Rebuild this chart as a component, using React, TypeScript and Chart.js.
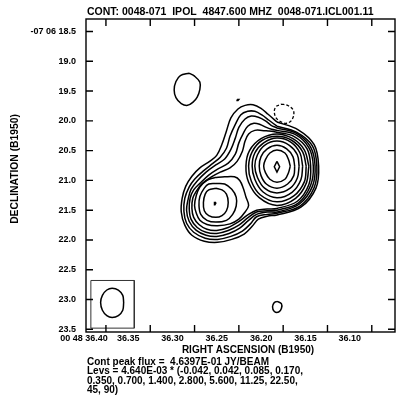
import React, { useEffect, useRef } from "react";
import { Chart, registerables } from "chart.js";

Chart.register(...registerables);

type Pt = [number, number];

// Axis ranges (RA seconds of 00h48m, Dec arcsec of -07d06m)
const raRange: Pt = [36.0738, 36.4225];
const decRange: Pt = [18.29, 23.545];
const raTicks = [36.4, 36.35, 36.3, 36.25, 36.2, 36.15, 36.1];
const decTicks = [18.5, 19.0, 19.5, 20.0, 20.5, 21.0, 21.5, 22.0, 22.5, 23.0, 23.5];

// Header / footer text values
const mapTitle = "CONT: 0048-071  IPOL  4847.600 MHZ  0048-071.ICL001.11";
const peakFlux = "4.6397E-01";
const levUnit = "4.640E-03";
const levLabels = ["-0.042", "0.042", "0.085", "0.170", "0.350", "0.700", "1.400", "2.800", "5.600", "11.25", "22.50", "45", "90"];

// Contours, [RA s, Dec arcsec]
const neg0042: Pt[] = [[36.202,19.72],[36.195,19.74],[36.189,19.81],[36.188,19.90],[36.191,20.00],[36.196,20.04],[36.202,20.02],[36.208,19.95],[36.210,19.84],[36.208,19.76]];
const pos0042Main: Pt[] = [[36.207,20.02],[36.183,20.15],[36.165,20.40],[36.160,20.76],[36.163,21.13],[36.180,21.45],[36.207,21.58],[36.218,21.60],[36.228,21.65],[36.235,21.77],[36.244,21.90],[36.258,21.99],[36.274,22.04],[36.289,22.02],[36.303,21.92],[36.311,21.75],[36.315,21.53],[36.314,21.30],[36.310,21.10],[36.303,20.93],[36.294,20.79],[36.283,20.68],[36.275,20.58],[36.269,20.39],[36.264,20.17],[36.259,19.95],[36.251,19.80],[36.243,19.74],[36.234,19.73],[36.225,19.79],[36.217,19.89]];
const pos0042Blob: Pt[] = [[36.306,19.20],[36.300,19.25],[36.294,19.35],[36.294,19.47],[36.297,19.60],[36.302,19.69],[36.308,19.74],[36.315,19.71],[36.321,19.61],[36.323,19.48],[36.321,19.34],[36.316,19.24]];
const pos0042Speck: Pt[] = [[36.252,19.64],[36.250,19.64],[36.251,19.66]];
const pos0042South: Pt[] = [[36.207,23.03],[36.202,23.07],[36.202,23.15],[36.205,23.21],[36.210,23.20],[36.212,23.12],[36.210,23.05]];
const pos0085: Pt[] = [[36.207,20.09],[36.185,20.19],[36.167,20.42],[36.162,20.76],[36.165,21.12],[36.181,21.43],[36.207,21.55],[36.218,21.57],[36.230,21.61],[36.237,21.73],[36.246,21.85],[36.259,21.94],[36.274,21.99],[36.288,21.97],[36.301,21.87],[36.309,21.72],[36.312,21.52],[36.311,21.30],[36.306,21.11],[36.300,20.98],[36.290,20.84],[36.279,20.71],[36.271,20.61],[36.264,20.46],[36.260,20.26],[36.254,20.06],[36.248,19.90],[36.240,19.84],[36.232,19.84],[36.224,19.90],[36.216,19.99]];
const pos0170: Pt[] = [[36.207,20.12],[36.185,20.21],[36.169,20.44],[36.164,20.76],[36.167,21.10],[36.182,21.40],[36.207,21.53],[36.218,21.53],[36.230,21.57],[36.239,21.67],[36.249,21.80],[36.261,21.89],[36.275,21.94],[36.287,21.92],[36.298,21.84],[36.306,21.69],[36.309,21.50],[36.307,21.30],[36.304,21.15],[36.297,21.01],[36.287,20.86],[36.276,20.74],[36.266,20.64],[36.259,20.48],[36.254,20.29],[36.250,20.11],[36.243,19.97],[36.236,19.92],[36.228,19.94],[36.220,20.00],[36.214,20.07]];
const pos0350: Pt[] = [[36.207,20.16],[36.186,20.23],[36.171,20.45],[36.166,20.76],[36.169,21.08],[36.183,21.38],[36.207,21.50],[36.218,21.51],[36.230,21.53],[36.240,21.63],[36.250,21.75],[36.262,21.84],[36.275,21.89],[36.287,21.87],[36.297,21.79],[36.304,21.65],[36.306,21.48],[36.305,21.30],[36.301,21.16],[36.294,21.05],[36.284,20.91],[36.274,20.81],[36.262,20.71],[36.254,20.56],[36.250,20.37],[36.245,20.21],[36.240,20.09],[36.233,20.04],[36.226,20.06],[36.219,20.11],[36.213,20.14]];
const pos0700: Pt[] = [[36.207,20.19],[36.188,20.26],[36.173,20.47],[36.169,20.76],[36.171,21.07],[36.184,21.35],[36.207,21.47],[36.218,21.48],[36.230,21.50],[36.240,21.58],[36.251,21.70],[36.262,21.79],[36.275,21.84],[36.286,21.82],[36.295,21.74],[36.301,21.62],[36.303,21.47],[36.302,21.30],[36.298,21.18],[36.292,21.06],[36.281,20.94],[36.271,20.86],[36.260,20.79],[36.252,20.68],[36.246,20.51],[36.243,20.34],[36.239,20.22],[36.232,20.16],[36.224,20.16],[36.217,20.17],[36.211,20.18]];
const pos1400West: Pt[] = [[36.277,20.95],[36.266,20.94],[36.255,20.94],[36.249,21.00],[36.245,21.13],[36.242,21.28],[36.239,21.42],[36.243,21.53],[36.250,21.65],[36.260,21.73],[36.274,21.76],[36.286,21.74],[36.294,21.67],[36.298,21.55],[36.300,21.42],[36.298,21.25],[36.294,21.11],[36.286,21.00]];
const pos1400East: Pt[] = [[36.171,20.76],[36.174,21.05],[36.186,21.30],[36.207,21.42],[36.227,21.29],[36.239,21.03],[36.242,20.76],[36.238,20.50],[36.225,20.30],[36.207,20.22],[36.189,20.30],[36.176,20.49]];
const pos2800West: Pt[] = [[36.276,21.05],[36.266,21.06],[36.258,21.15],[36.253,21.28],[36.253,21.43],[36.257,21.57],[36.264,21.67],[36.276,21.70],[36.286,21.67],[36.293,21.57],[36.295,21.42],[36.294,21.27],[36.289,21.13],[36.284,21.06]];
const pos2800East: Pt[] = [[36.174,20.76],[36.176,21.02],[36.188,21.26],[36.207,21.36],[36.226,21.24],[36.236,21.01],[36.239,20.76],[36.235,20.52],[36.224,20.33],[36.207,20.26],[36.190,20.33],[36.178,20.52]];
const pos5600West: Pt[] = [[36.276,21.13],[36.269,21.16],[36.264,21.23],[36.262,21.37],[36.264,21.51],[36.269,21.59],[36.276,21.62],[36.284,21.59],[36.289,21.51],[36.290,21.37],[36.288,21.23],[36.284,21.16]];
const pos5600East: Pt[] = [[36.178,20.76],[36.180,20.99],[36.190,21.20],[36.207,21.29],[36.223,21.19],[36.232,20.98],[36.235,20.76],[36.232,20.54],[36.222,20.37],[36.207,20.29],[36.191,20.36],[36.181,20.54]];
const pos1125West: Pt[] = [[36.277,21.36],[36.276,21.38],[36.277,21.41],[36.278,21.38]];
const pos1125East: Pt[] = [[36.182,20.76],[36.184,20.96],[36.192,21.13],[36.207,21.21],[36.221,21.13],[36.229,20.95],[36.232,20.76],[36.229,20.57],[36.221,20.41],[36.207,20.34],[36.193,20.41],[36.184,20.57]];
const pos2250East: Pt[] = [[36.187,20.76],[36.188,20.92],[36.195,21.06],[36.207,21.13],[36.219,21.06],[36.225,20.92],[36.227,20.76],[36.225,20.60],[36.218,20.47],[36.207,20.41],[36.196,20.47],[36.189,20.60]];
const pos4500East: Pt[] = [[36.192,20.76],[36.194,20.87],[36.198,20.98],[36.207,21.03],[36.215,20.98],[36.220,20.87],[36.222,20.76],[36.220,20.65],[36.215,20.54],[36.207,20.49],[36.198,20.54],[36.194,20.65]];
const pos9000East: Pt[] = [[36.207,20.68],[36.204,20.77],[36.207,20.86],[36.210,20.77]];
const beamEllipse: Pt[] = [[36.380,23.05],[36.381,23.18],[36.386,23.27],[36.393,23.30],[36.399,23.27],[36.404,23.18],[36.406,23.05],[36.404,22.93],[36.399,22.84],[36.393,22.81],[36.386,22.84],[36.381,22.93]];
const beamBox: Pt[] = [[36.417,22.68],[36.368,22.68],[36.368,23.48],[36.417,23.48]];

const FONT = '"Liberation Sans", Arial, sans-serif';

function loop(pts: Pt[]) {
  const d = pts.map(([x, y]) => ({ x, y }));
  d.push({ x: pts[0][0], y: pts[0][1] });
  return d;
}

function contour(label: string, pts: Pt[], opts: any = {}) {
  return {
    label,
    data: loop(pts),
    showLine: true,
    borderColor: "#000",
    borderWidth: 1.5,
    pointRadius: 0,
    pointHoverRadius: 0,
    tension: 0.35,
    fill: false,
    ...opts,
  };
}

const framePlugin = {
  id: "aipsFrame",
  afterDatasetsDraw(chart: any) {
    const { ctx, chartArea, scales } = chart;
    const { left, right, top, bottom } = chartArea;
    const x = scales.x;
    const y = scales.y;
    ctx.save();
    ctx.strokeStyle = "#000";
    ctx.lineWidth = 1.4;
    ctx.strokeRect(left, top, right - left, bottom - top);
    const tl = 7;
    ctx.beginPath();
    raTicks.forEach((v) => {
      const px = x.getPixelForValue(v);
      ctx.moveTo(px, top);
      ctx.lineTo(px, top + tl);
      ctx.moveTo(px, bottom);
      ctx.lineTo(px, bottom - tl);
    });
    decTicks.forEach((v) => {
      const py = y.getPixelForValue(v);
      ctx.moveTo(left, py);
      ctx.lineTo(left + tl, py);
      ctx.moveTo(right, py);
      ctx.lineTo(right - tl, py);
    });
    ctx.stroke();
    ctx.restore();
  },
  afterDraw(chart: any) {
    const { ctx } = chart;
    ctx.save();
    ctx.fillStyle = "#000";
    ctx.textBaseline = "middle";
    ctx.textAlign = "left";
    ctx.font = `bold 10.5px ${FONT}`;
    ctx.fillText(mapTitle, 87, 12);
    ctx.font = `bold 10px ${FONT}`;
    ctx.textAlign = "center";
    ctx.fillText("RIGHT ASCENSION (B1950)", 248, 350);
    ctx.textAlign = "left";
    ctx.fillText(`Cont peak flux =  ${peakFlux} JY/BEAM`, 87, 362);
    const l1 = `Levs = ${levUnit} * (${levLabels.slice(0, 4).join(", ")},`;
    const l2 = `${levLabels.slice(4, 11).join(", ")},`;
    const l3 = `${levLabels.slice(11).join(", ")})`;
    ctx.fillText(l1, 87, 371.5);
    ctx.fillText(l2, 87, 381);
    ctx.fillText(l3, 87, 390.5);
    ctx.translate(15, 169);
    ctx.rotate(-Math.PI / 2);
    ctx.textAlign = "center";
    ctx.font = `bold 10.3px ${FONT}`;
    ctx.fillText("DECLINATION (B1950)", 0, 0);
    ctx.restore();
  },
};

export default function App() {
  const ref = useRef<HTMLCanvasElement>(null);
  useEffect(() => {
    const canvas = ref.current;
    if (!canvas) return;
    const datasets = [
      contour("-0.042", neg0042, { borderDash: [3, 2], borderWidth: 1.3 }),
      contour("0.042", pos0042Main),
      contour("0.042 blob", pos0042Blob),
      contour("0.042 speck", pos0042Speck, { tension: 0 }),
      contour("0.042 south", pos0042South),
      contour("0.085", pos0085),
      contour("0.170", pos0170),
      contour("0.350", pos0350),
      contour("0.700", pos0700),
      contour("1.400 W", pos1400West),
      contour("1.400 E", pos1400East),
      contour("2.800 W", pos2800West),
      contour("2.800 E", pos2800East),
      contour("5.600 W", pos5600West),
      contour("5.600 E", pos5600East),
      contour("11.25 W", pos1125West, { tension: 0 }),
      contour("11.25 E", pos1125East),
      contour("22.50 E", pos2250East),
      contour("45 E", pos4500East),
      contour("90 E", pos9000East, { tension: 0 }),
      contour("beam", beamEllipse),
      {
        label: "beam box",
        data: loop(beamBox),
        showLine: true,
        borderColor: "#333",
        borderWidth: 1,
        pointRadius: 0,
        tension: 0,
        fill: false,
      },
    ];
    const chart = new Chart(canvas, {
      type: "scatter",
      data: { datasets } as any,
      options: {
        animation: false,
        responsive: false,
        devicePixelRatio: 1,
        events: [],
        layout: { padding: { top: 19, right: 10, bottom: 0, left: 0 } },
        plugins: { legend: { display: false }, tooltip: { enabled: false }, title: { display: false } },
        scales: {
          x: {
            type: "linear",
            position: "bottom",
            reverse: true,
            min: raRange[0],
            max: raRange[1],
            afterBuildTicks: (s: any) => {
              s.ticks = raTicks.map((v) => ({ value: v }));
            },
            afterFit: (s: any) => {
              s.height = 74;
            },
            grid: { display: false, drawTicks: false },
            border: { display: false },
            ticks: {
              color: "#000",
              font: { family: FONT, size: 9, weight: "bold" },
              padding: 1,
              labelOffset: -22,
              maxRotation: 0,
              autoSkip: false,
              callback: (v: any, i: number) => (i === 0 ? `00 48 ${Number(v).toFixed(2)}` : Number(v).toFixed(2)),
            },
          },
          y: {
            type: "linear",
            position: "left",
            reverse: true,
            min: decRange[0],
            max: decRange[1],
            afterBuildTicks: (s: any) => {
              s.ticks = decTicks.map((v) => ({ value: v }));
            },
            afterFit: (s: any) => {
              s.width = 86;
            },
            grid: { display: false, drawTicks: false },
            border: { display: false },
            ticks: {
              color: "#000",
              font: { family: FONT, size: 9, weight: "bold" },
              padding: 10,
              autoSkip: false,
              callback: (v: any, i: number) => (i === 0 ? `-07 06 ${Number(v).toFixed(1)}` : Number(v).toFixed(1)),
            },
          },
        },
      } as any,
      plugins: [framePlugin],
    });
    return () => chart.destroy();
  }, []);
  return (
    <div style={{ position: "fixed", left: 0, top: 0, width: 405, height: 406, background: "#fff" }}>
      <canvas ref={ref} width={405} height={406} style={{ display: "block", width: 405, height: 406 }} />
    </div>
  );
}
